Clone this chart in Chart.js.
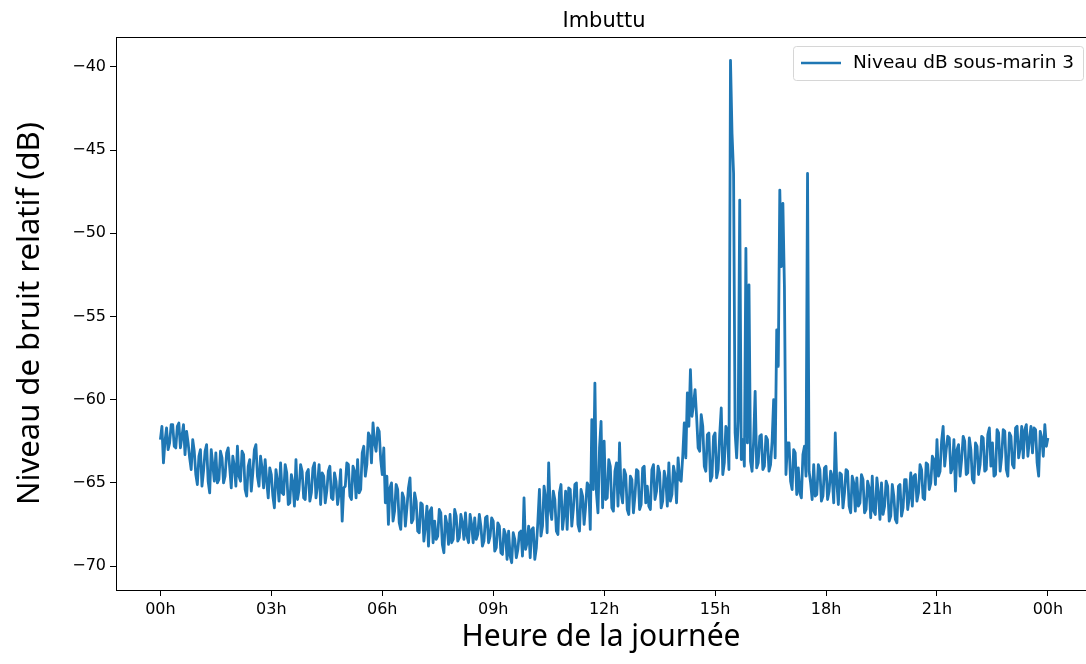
<!DOCTYPE html>
<html>
<head>
<meta charset="utf-8">
<script src="https://cdn.jsdelivr.net/npm/chart.js@4.4.1/dist/chart.umd.min.js"></script>
<style>
  html, body { margin: 0; padding: 0; background: #fff; overflow: hidden; }
  #wrap { width: 1086px; height: 664px; }
</style>
</head>
<body>
<div id="wrap"><canvas id="noiseChart" width="1086" height="664"></canvas></div>
<script>
//chart texts
var chartTitle = 'Imbuttu';
var seriesLabel = 'Niveau dB sous-marin 3';
var xTitle = 'Heure de la journée';
var yTitle = 'Niveau de bruit relatif (dB)';

//x ticks (hours) and their labels
var xTicks = [0, 3, 6, 9, 12, 15, 18, 21, 24];
var xTickLabels = ['00h', '03h', '06h', '09h', '12h', '15h', '18h', '21h', '00h'];
var yTicks = [-70, -65, -60, -55, -50, -45, -40];

//readings on the 5 minute marks, one row per hour (00h .. 23h, then 24h)
var levels = [
    -62.4, -63.8, -61.7, -62.6, -61.5, -62.9, -61.4, -62.2, -63.3, -62.6, -64.2, -63.1,
    -65.1, -63.0, -64.3, -62.7, -65.6, -63.9, -63.2, -64.8, -63.5, -64.6, -62.9, -65.3,
    -64.0, -62.8, -64.9, -63.3, -65.8, -63.6, -64.4, -62.7, -65.2, -64.1, -63.6, -65.9,
    -64.5, -66.5, -64.9, -63.8, -65.7, -64.4, -66.2, -65.0, -63.6, -65.4, -64.3, -66.0,
    -64.2, -65.6, -63.8, -65.1, -66.3, -64.6, -65.5, -64.0, -66.0, -64.9, -65.6, -67.3,
    -65.2, -63.9, -66.0, -64.3, -63.6, -65.4, -62.8, -63.9, -62.2, -61.4, -63.1, -61.9,
    -64.5, -66.2, -67.5, -65.0, -66.7, -65.4, -67.8, -65.9, -66.5, -64.7, -67.2, -66.1,
    -68.0, -66.3, -67.6, -68.8, -66.5, -67.3, -68.2, -66.8, -69.2, -67.5, -66.9, -68.4,
    -67.0, -68.3, -67.4, -66.8, -68.6, -67.5, -67.1, -68.1, -67.6, -68.5, -67.0, -68.2,
    -67.3, -68.9, -67.6, -69.3, -68.1, -67.9, -69.8, -68.4, -69.0, -67.9, -65.9, -68.6,
    -69.5, -67.7, -68.9, -65.4, -67.6, -65.9, -63.8, -67.2, -66.0, -68.1, -65.1, -66.9,
    -67.8, -65.4, -66.6, -65.0, -67.9, -65.8, -66.4, -65.2, -61.2, -59.0, -66.8, -61.3,
    -62.5, -65.9, -64.0, -66.7, -63.8, -62.6, -66.2, -64.5, -66.9, -64.8, -65.8, -64.3,
    -66.3, -64.0, -65.2, -66.6, -63.9, -65.5, -64.4, -66.1, -64.8, -63.8, -65.7, -64.5,
    -63.5, -64.9, -61.4, -59.6, -58.2, -60.3, -61.0, -63.1, -61.6, -64.3, -62.0, -64.6,
    -62.0, -64.2, -60.5, -63.8, -61.9, -39.6, -46.4, -63.5, -48.0, -62.4, -50.9, -53.1,
    -64.3, -59.5, -63.8, -62.1, -64.0, -62.4, -63.9, -60.0, -55.8, -47.4, -48.2, -64.5,
    -62.6, -65.4, -63.2, -64.1, -65.9, -62.8, -46.4, -65.0, -63.9, -65.7, -64.2, -65.8,
    -64.0, -65.5, -64.6, -62.0, -66.3, -64.5, -65.6, -64.3, -66.8, -65.0, -64.7, -66.2,
    -64.8, -66.6, -65.3, -64.6, -66.9, -65.6, -65.0, -66.4, -65.2, -67.0, -65.8, -67.4,
    -65.1, -66.5, -64.8, -65.9, -66.4, -64.5, -65.6, -64.2, -66.0, -63.9, -65.0, -63.6,
    -62.4, -64.3, -61.6, -63.0, -62.3, -64.1, -65.5, -62.7, -63.6, -62.5, -64.4, -63.0,
    -65.0, -62.8, -63.9, -62.3, -64.2, -61.7, -62.6, -64.5, -62.0, -63.4, -61.9, -64.6,
    -62.2, -64.1, -61.6, -62.9, -63.5, -61.5, -62.4, -63.2, -61.8, -64.6, -62.3, -61.5,
    -62.3
];

//readings half way between the 5 minute marks (hh:02.5, hh:07.5, ...)
var levelsHalf = [
    -61.6, -62.5, -63.0, -61.5, -62.8, -61.6, -62.9, -61.5, -61.9, -63.5, -62.4, -64.5,
    -63.4, -65.2, -63.1, -64.9, -63.0, -64.9, -65.0, -63.1, -65.0, -63.2, -64.1, -63.4,
    -65.2, -64.6, -63.1, -65.4, -64.0, -65.5, -63.0, -64.6, -63.4, -65.3, -64.9, -64.1,
    -65.8, -64.2, -66.1, -65.6, -63.9, -66.3, -64.5, -66.4, -66.0, -63.9, -65.9, -64.4,
    -66.1, -64.1, -65.9, -63.9, -64.4, -66.2, -64.3, -65.9, -64.4, -66.3, -64.2, -65.3,
    -63.8, -65.8, -64.0, -65.9, -65.6, -63.2, -64.6, -62.0, -63.8, -62.6, -61.7, -63.6,
    -62.9, -64.6, -65.3, -67.3, -65.1, -67.4, -65.6, -67.6, -65.3, -67.4, -65.6, -67.9,
    -66.2, -68.5, -66.4, -66.7, -68.6, -68.4, -66.6, -68.7, -67.0, -68.7, -68.6, -66.6,
    -68.5, -66.9, -68.4, -68.2, -66.9, -68.6, -68.4, -66.9, -68.8, -67.1, -68.6, -67.1,
    -69.1, -67.4, -69.2, -67.8, -69.6, -69.4, -68.0, -69.5, -68.0, -69.4, -69.0, -67.6,
    -67.8, -69.6, -67.3, -68.2, -65.2, -68.0, -66.6, -65.5, -67.9, -65.6, -67.8, -65.5,
    -65.3, -67.6, -65.1, -67.5, -65.4, -67.5, -65.0, -67.8, -65.4, -65.6, -62.9, -66.5,
    -66.0, -63.6, -66.5, -64.3, -66.4, -65.6, -64.2, -66.6, -64.6, -66.8, -64.2, -66.6,
    -64.1, -66.2, -66.4, -64.2, -66.0, -64.0, -66.5, -64.3, -66.4, -66.1, -64.0, -66.2,
    -64.8, -63.4, -63.5, -61.6, -61.0, -59.4, -62.9, -60.9, -64.0, -62.1, -64.9, -62.2,
    -64.7, -62.1, -64.5, -61.6, -64.2, -44.0, -62.0, -61.3, -63.6, -64.0, -62.6, -63.7,
    -62.5, -64.1, -62.2, -64.2, -62.2, -64.3, -62.5, -63.5, -58.0, -52.0, -53.2, -62.6,
    -64.9, -63.0, -65.7, -65.6, -63.3, -64.6, -64.3, -66.0, -65.8, -63.9, -66.1, -64.1,
    -66.0, -64.3, -66.2, -65.0, -64.4, -66.5, -64.2, -66.4, -64.6, -66.7, -66.4, -64.5,
    -66.8, -64.9, -67.1, -66.7, -64.7, -67.2, -66.9, -64.9, -67.3, -65.1, -67.2, -65.2,
    -67.0, -64.8, -66.6, -64.4, -64.6, -66.1, -63.9, -65.9, -63.8, -65.4, -63.4, -65.1,
    -64.6, -62.5, -64.0, -62.2, -64.4, -62.4, -63.0, -64.6, -62.2, -64.5, -62.3, -64.8,
    -62.6, -64.5, -62.2, -64.3, -62.1, -64.0, -64.6, -61.8, -64.3, -61.8, -64.2, -62.0,
    -63.9, -61.7, -63.5, -61.6, -61.8, -63.4, -61.6, -61.7, -63.8, -61.9, -63.4, -62.8
];

var lineColor = '#1f77b4';
var smallFont = { family: 'DejaVu Sans', size: 16 };

//merges both reading lists in time order, times in hours
function getPoints() {
    var points = [];
    levels.forEach((v, i) => {
        points.push({ x: i * 5 / 60, y: v });
        if (i < levelsHalf.length) {
            points.push({ x: (i * 5 + 2.5) / 60, y: levelsHalf[i] });
        }
    });
    return points;
}

//draws the top spine, the title and the legend box like matplotlib does
var decorPlugin = {
    id: 'decor',
    afterDraw: function(chart) {
        var ctx = chart.ctx;
        var area = chart.chartArea;
        ctx.save();

        //top spine
        ctx.strokeStyle = '#000';
        ctx.lineWidth = 1;
        ctx.beginPath();
        ctx.moveTo(area.left, area.top + 0.5);
        ctx.lineTo(area.right, area.top + 0.5);
        ctx.stroke();

        //title
        ctx.fillStyle = '#000';
        ctx.font = '21px "DejaVu Sans"';
        ctx.textAlign = 'center';
        ctx.textBaseline = 'alphabetic';
        ctx.fillText(chartTitle, 604, 27);

        //legend
        var ds = chart.data.datasets[0];
        ctx.fillStyle = 'rgba(255,255,255,0.8)';
        ctx.strokeStyle = '#d6d6d6';
        ctx.lineWidth = 1;
        ctx.beginPath();
        ctx.roundRect(793.5, 46.5, 290, 34, 3);
        ctx.fill();
        ctx.stroke();
        ctx.strokeStyle = ds.borderColor;
        ctx.lineWidth = 2.5;
        ctx.beginPath();
        ctx.moveTo(801, 63);
        ctx.lineTo(841, 63);
        ctx.stroke();
        ctx.fillStyle = '#000';
        ctx.font = '18.5px "DejaVu Sans"';
        ctx.textAlign = 'left';
        ctx.textBaseline = 'middle';
        ctx.fillText(ds.label, 853, 63);
        ctx.restore();
    }
};

var ctx = document.getElementById('noiseChart').getContext('2d');
var noiseChart = new Chart(ctx, {
    type: 'line',
    data: {
        datasets: [{
            label: seriesLabel,
            data: getPoints(),
            borderColor: lineColor,
            backgroundColor: lineColor,
            borderWidth: 2.8,
            pointRadius: 0,
            tension: 0,
            borderJoinStyle: 'round'
        }]
    },
    options: {
        responsive: false,
        animation: false,
        layout: { padding: { top: 37, right: 0, left: 0, bottom: 0 } },
        plugins: {
            legend: { display: false },
            title: { display: false },
            tooltip: { enabled: false }
        },
        scales: {
            x: {
                type: 'linear',
                min: -1.2,
                max: 25.03,
                afterFit: function(scale) { scale.height = 74; },
                afterBuildTicks: function(scale) {
                    scale.ticks = xTicks.map(v => ({ value: v }));
                },
                ticks: {
                    autoSkip: false,
                    maxRotation: 0,
                    color: '#000',
                    font: smallFont,
                    padding: 4,
                    callback: function(value) {
                        var i = xTicks.indexOf(value);
                        return i >= 0 ? xTickLabels[i] : '';
                    }
                },
                grid: {
                    drawOnChartArea: false,
                    color: '#000',
                    tickLength: 6
                },
                border: { color: '#000', width: 1 },
                title: {
                    display: true,
                    text: xTitle,
                    color: '#000',
                    font: { family: 'Noto Sans', size: 30 },
                    padding: { top: 0, bottom: 9 }
                }
            },
            y: {
                min: -71.44,
                max: -38.2,
                afterFit: function(scale) { scale.width = 116; },
                afterBuildTicks: function(scale) {
                    scale.ticks = yTicks.map(v => ({ value: v }));
                },
                ticks: {
                    color: '#000',
                    font: smallFont,
                    padding: 4,
                    callback: function(value) {
                        return value < 0 ? '\u2212' + Math.abs(value) : '' + value;
                    }
                },
                grid: {
                    drawOnChartArea: false,
                    color: '#000',
                    tickLength: 6
                },
                border: { color: '#000', width: 1 },
                title: {
                    display: true,
                    text: yTitle,
                    color: '#000',
                    font: { family: 'Noto Sans', size: 31 },
                    padding: { top: 12, bottom: 0 }
                }
            }
        }
    },
    plugins: [decorPlugin]
});
</script>
</body>
</html>
